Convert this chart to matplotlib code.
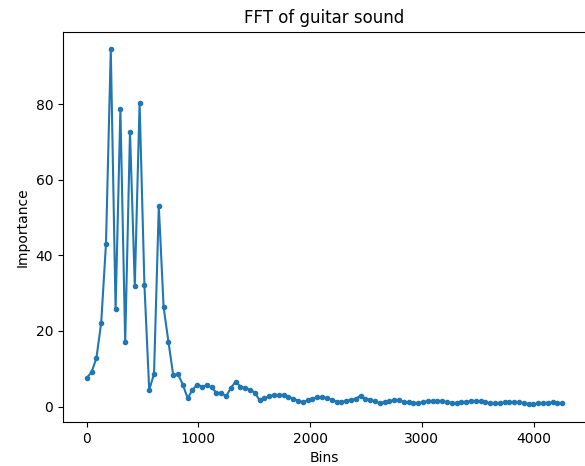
import matplotlib
matplotlib.use("Agg")
import matplotlib.pyplot as plt
import numpy as np

bin_step = 43
importance = [
    7.6, 9.1, 12.8, 22.1, 43.1, 94.6, 25.7, 78.7, 17.0, 72.8,
    31.9, 80.4, 32.3, 4.4, 8.6, 53.1, 26.3, 17.2, 8.3, 8.6,
    5.8, 2.2, 4.4, 5.8, 5.3, 5.6, 5.1, 3.6, 3.6, 2.7,
    4.9, 6.6, 5.3, 4.9, 4.4, 3.7, 1.6, 2.2, 2.7, 3.1,
    3.0, 3.1, 2.6, 2.1, 1.5, 1.2, 1.6, 2.1, 2.4, 2.5,
    2.2, 1.8, 1.3, 1.2, 1.5, 1.8, 2.0, 2.9, 2.1, 1.8,
    1.4, 0.9, 1.1, 1.4, 1.7, 1.6, 1.3, 1.1, 1.0, 0.9,
    1.2, 1.4, 1.5, 1.4, 1.4, 1.2, 1.0, 0.9, 1.1, 1.3,
    1.5, 1.4, 1.4, 1.1, 0.9, 0.8, 0.9, 1.1, 1.2, 1.2,
    1.1, 0.9, 0.7, 0.6, 0.8, 0.9, 1.0, 1.1, 1.0, 0.8,
]
bins = np.arange(len(importance)) * bin_step

W, H = 585, 466
fig = plt.figure(figsize=(W / 100, H / 100), dpi=100)
left, right, top, bottom = 63, 586, 31.5, 422
ax = fig.add_axes([left / W, 1 - bottom / H, (right - left) / W, (bottom - top) / H])
ax.plot(bins, importance, '.-', color='#1f77b4')
ax.set_title("FFT of guitar sound")
ax.set_xlabel("Bins")
ax.set_ylabel("Importance")
fig.savefig("out.png", dpi=100)
